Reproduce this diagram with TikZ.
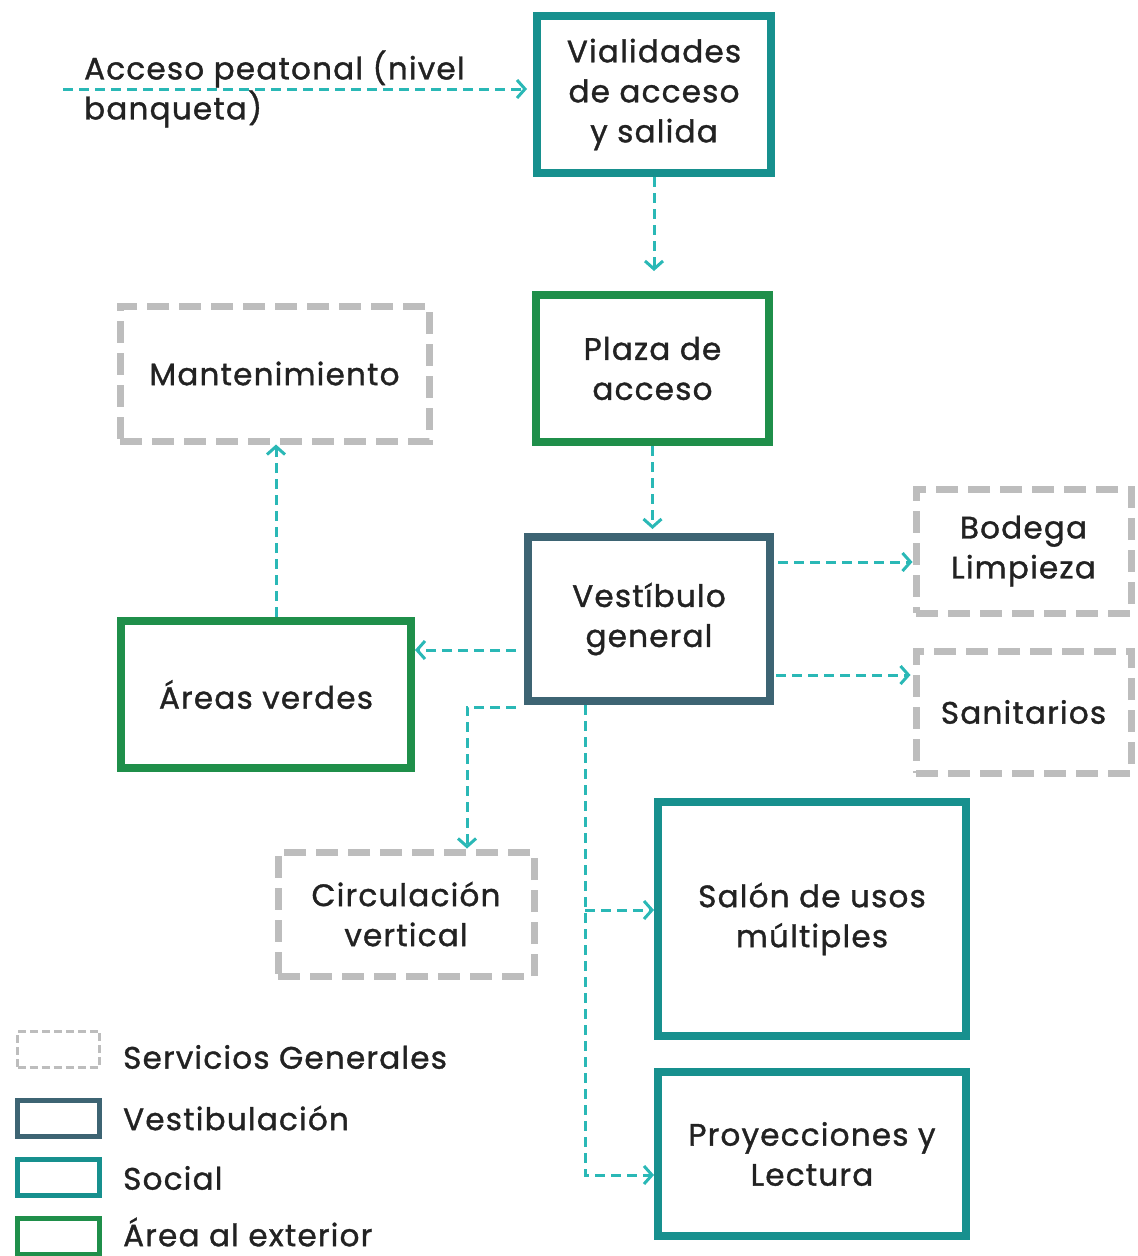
\documentclass[tikz,border=0pt]{standalone}
\usepackage{fontspec}
\setmainfont{Poppins}[LetterSpace=4,FakeBold=1.2]
\usetikzlibrary{arrows.meta,calc}
\definecolor{social}{HTML}{17908E}
\definecolor{vestib}{HTML}{3D6473}
\definecolor{exterior}{HTML}{1F8F4A}
\definecolor{servgray}{HTML}{BDBDBD}
\definecolor{arrowc}{HTML}{2AB8B6}
\definecolor{txt}{HTML}{222222}
\begin{document}
\begin{tikzpicture}[x=1pt,y=-1pt,
  font=\fontsize{31}{40}\selectfont, text=txt,
  box/.style={draw, line width=8pt, align=center, inner sep=0pt},
  social/.style={box, draw=social},
  vestib/.style={box, draw=vestib},
  exterior/.style={box, draw=exterior},
  serv/.style={box, draw=servgray, line width=7pt, dash pattern=on 22pt off 10pt},
  arr/.style={draw=arrowc, line width=3pt, dash pattern=on 10pt off 6pt,
    -{Straight Barb[length=8pt,width=18pt]}},
  legbox/.style={draw, line width=5pt, minimum width=82pt, minimum height=36pt, inner sep=0pt},
  legtxt/.style={anchor=west, inner sep=0pt}
]
\useasboundingbox (0,0) rectangle (1138,1256);

\node[social, minimum width=234pt, minimum height=157pt] (vial) at (654,94.5) {Vialidades\\de acceso\\y salida};
\node[exterior, minimum width=233pt, minimum height=147pt] (plaza) at (652.5,368.5) {Plaza de\\acceso};
\node[serv, minimum width=309pt, minimum height=135pt] (mant) at (274.5,373.5) {Mantenimiento};
\node[vestib, minimum width=242pt, minimum height=164pt] (vest) at (649,619) {Vestíbulo\\general};
\node[serv, minimum width=215pt, minimum height=124pt] (bod) at (1023.5,551) {Bodega\\Limpieza};
\node[serv, minimum width=215pt, minimum height=122pt] (san) at (1023.5,712) {Sanitarios};
\node[exterior, minimum width=290pt, minimum height=147pt] (areas) at (266,694.5) {Áreas verdes};
\node[serv, minimum width=256pt, minimum height=124pt] (circ) at (406,914) {Circulación\\vertical};
\node[social, minimum width=308pt, minimum height=234pt] (salon) at (812,919) {Salón de usos\\múltiples};
\node[social, minimum width=308pt, minimum height=164pt] (proy) at (812,1154) {Proyecciones y\\Lectura};

\node[anchor=west, align=left, inner sep=0pt] (acc) at (84,89) {Acceso peatonal (nivel\\banqueta)};
\coordinate (accstart) at (63,89);
\coordinate (salonin) at ([yshift=9pt]salon.west);
\coordinate (proyin) at ([yshift=-21pt]proy.west);
\coordinate (busstart) at ([xshift=-64pt]vest.south);

\draw[arr, shorten >=6pt] (accstart) -- (accstart -| vial.west);
\draw[arr, shorten >=20pt] (vial.south) -- (vial.south |- plaza.north);
\draw[arr, shorten >=4pt] (plaza.south) -- (plaza.south |- vest.north);
\draw[arr, shorten <=4pt] ([yshift=57pt]vest.east) -- ([yshift=57pt]vest.east -| bod.west);
\draw[arr, shorten >=2pt, shorten <=2pt] ([yshift=-56pt]vest.east) -- ([yshift=-56pt]vest.east -| san.west);
\draw[arr, shorten <=8pt] ([yshift=-31pt]vest.west) -- ([yshift=-31pt]vest.west -| areas.east);
\draw[arr] ([xshift=10pt]areas.north) -- ([xshift=10pt]areas.north |- mant.south);
\draw[arr, shorten <=8pt] ([yshift=-2pt]vest.south west) -| ([xshift=61pt]circ.north);
\draw[arr] (busstart) |- (proyin);
\draw[arr] (busstart |- salonin) -- (salonin);

% legend
\node[legbox, draw=servgray, line width=3pt, dash pattern=on 8pt off 4pt] (l1) at (58.5,1049) {};
\node[legbox, draw=vestib] (l2) at (58.5,1118) {};
\node[legbox, draw=social] (l3) at (58.5,1177) {};
\node[legbox, draw=exterior] (l4) at (58.5,1236) {};
\node[legtxt] (t1) at (123,1057) {Servicios Generales};
\node[legtxt] (t2) at (123,1118) {Vestibulación};
\node[legtxt] (t3) at (123,1178) {Social};
\node[legtxt] (t4) at (123,1232) {Área al exterior};
\end{tikzpicture}
\end{document}
